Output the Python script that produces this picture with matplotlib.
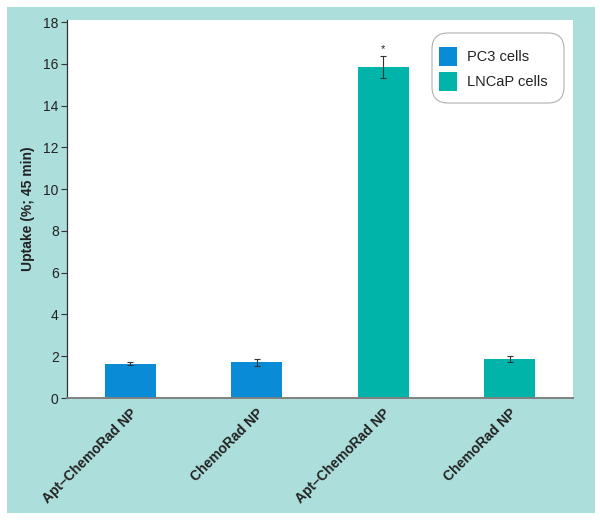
import numpy as np
import matplotlib.pyplot as plt
from matplotlib.patches import Rectangle, Patch, FancyBboxPatch
from matplotlib.transforms import IdentityTransform

categories = ['Apt–ChemoRad NP', 'ChemoRad NP', 'Apt–ChemoRad NP', 'ChemoRad NP']
uptake = [1.65, 1.7, 15.85, 1.85]
errors = [0.05, 0.15, 0.55, 0.15]
cell_line = ['PC3 cells', 'PC3 cells', 'LNCaP cells', 'LNCaP cells']
colors = {'PC3 cells': '#0a8bd6', 'LNCaP cells': '#00b4a9'}
yticks = [0, 2, 4, 6, 8, 10, 12, 14, 16, 18]

plt.rcParams['font.family'] = ['Liberation Sans', 'DejaVu Sans']
txt = '#222222'

W, H = 600, 521
fig = plt.figure(figsize=(W / 100, H / 100), dpi=100)
fig.patch.set_facecolor('white')
# teal frame behind the plot
frame = Rectangle((7 / W, 8 / H), 588 / W, 506 / H, transform=fig.transFigure,
                  facecolor='#acdedb', edgecolor='none')
frame.set_zorder(-10)
fig.add_artist(frame)

ax = fig.add_axes([67 / W, 123 / H, 506 / W, 378 / H])
ax.set_zorder(1)
ax.set_facecolor('white')

x = np.arange(len(categories)) + 0.5
ax.bar(x, uptake, width=0.4, color=[colors[c] for c in cell_line], zorder=2)
ax.errorbar(x, uptake, yerr=errors, fmt='none', ecolor='#333333', elinewidth=0.8,
            capsize=2.5, capthick=0.8, zorder=3)
ax.text(x[2], uptake[2] + errors[2] + 0.05, '*', ha='center', va='bottom',
        fontsize=8, color=txt)

ax.set_xlim(0, 4)
ax.set_ylim(0, 18.1)
ax.set_yticks(yticks)
ax.set_yticklabels([str(t) for t in yticks], fontsize=10, color=txt)
ax.set_xticks(x)
ax.set_xticklabels(categories, rotation=45, ha='right', rotation_mode='anchor',
                   fontsize=10, fontweight='bold', color=txt)
ax.tick_params(axis='x', length=0, pad=6)
ax.tick_params(axis='y', length=4, width=0.8, color='#333333', pad=2)
ax.set_ylabel('Uptake (%; 45 min)', fontsize=10, fontweight='bold', color=txt,
              labelpad=6)

ax.spines['top'].set_visible(False)
ax.spines['right'].set_visible(False)
ax.spines['left'].set_color('#333333')
ax.spines['left'].set_linewidth(0.9)
ax.spines['bottom'].set_color('#808080')
ax.spines['bottom'].set_linewidth(1.4)

# legend box: rounded, drawn in pixel coordinates
box = FancyBboxPatch((432, H - 103), 132, 70, transform=IdentityTransform(),
                     boxstyle='round,pad=0,rounding_size=16',
                     facecolor='white', edgecolor='#b0b0b0', linewidth=0.8)
box.set_zorder(5)
fig.add_artist(box)

handles = [Patch(facecolor=colors[k], edgecolor='none') for k in ['PC3 cells', 'LNCaP cells']]
leg = fig.legend(handles, ['PC3 cells', 'LNCaP cells'], loc='upper left',
                 bbox_to_anchor=(439 / W, (H - 47) / H), fontsize=10.5, frameon=False,
                 handlelength=1.25, handleheight=1.6, borderpad=0, borderaxespad=0,
                 labelspacing=0.45, handletextpad=0.7, labelcolor=txt)
leg.set_zorder(6)

fig.savefig('out.png', dpi=100, facecolor='white')
